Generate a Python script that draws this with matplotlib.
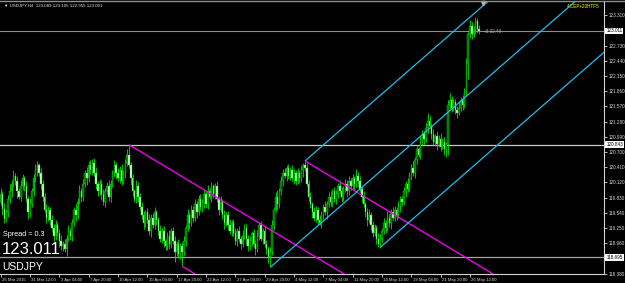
import matplotlib
matplotlib.use('Agg')
import matplotlib.pyplot as plt
from matplotlib.transforms import ScaledTranslation, blended_transform_factory
import numpy as np

# ---------------- data ----------------
first_open = 119.70
closes = [
    119.75, 119.90, 119.62, 119.42, 119.55, 119.80, 119.95, 120.10, 120.25, 120.15,
    119.95, 119.85, 120.05, 120.20, 120.05, 119.80, 119.55, 119.70, 119.95, 120.20,
    120.35, 120.45, 120.30, 120.10, 119.85, 119.60, 119.45, 119.60, 119.40, 119.25,
    119.10, 119.30, 119.15, 119.00, 118.90, 118.95, 118.85, 119.05, 119.20, 119.10,
    119.35, 119.60, 119.50, 119.75, 119.95, 119.85, 120.10, 120.30, 120.20, 120.45,
    120.35, 120.50, 120.30, 120.10, 119.95, 120.10, 119.90, 119.75, 119.95, 120.05,
    119.85, 120.10, 120.30, 120.45, 120.30, 120.20, 120.35, 120.15, 120.30, 120.50,
    120.65, 120.45, 120.20, 119.95, 119.80, 120.05, 119.85, 119.65, 119.50, 119.35,
    119.55, 119.40, 119.20, 119.45, 119.30, 119.55, 119.40, 119.20, 119.05, 119.20,
    119.00, 118.90, 119.10, 118.95, 119.20, 119.00, 118.80, 118.95, 118.75, 118.90,
    118.80, 119.00, 119.25, 119.50, 119.35, 119.60, 119.45, 119.70, 119.55, 119.80,
    119.65, 119.75, 119.90, 119.70, 119.95, 119.85, 120.05, 119.90, 120.05, 119.80,
    119.60, 119.75, 119.50, 119.35, 119.50, 119.30, 119.20, 119.35, 119.15, 119.00,
    119.20, 119.05, 118.95, 119.10, 119.25, 119.05, 118.90, 119.00, 119.15, 118.95,
    118.85, 119.10, 119.30, 119.05, 119.20, 118.95, 118.85, 118.70, 118.80, 119.30,
    119.60, 119.85, 119.70, 119.95, 120.15, 120.30, 120.25, 120.40, 120.25, 120.35,
    120.20, 120.30, 120.15, 120.30, 120.20, 120.35, 120.45, 120.40, 120.10, 119.85,
    119.70, 119.55, 119.45, 119.60, 119.40, 119.35, 119.50, 119.65, 119.55, 119.70,
    119.85, 119.75, 119.95, 119.80, 119.90, 120.05, 119.95, 119.85, 120.00, 120.10,
    119.95, 120.15, 120.05, 120.20, 120.10, 120.25, 120.15, 120.00, 119.85, 119.70,
    119.55, 119.40, 119.50, 119.30, 119.15, 119.25, 119.05, 118.95, 119.05, 119.20,
    119.35, 119.25, 119.45, 119.35, 119.55, 119.45, 119.60, 119.50, 119.65, 119.80,
    119.75, 119.95, 120.10, 120.00, 120.25, 120.40, 120.30, 120.55, 120.75, 120.65,
    120.90, 121.05, 120.95, 121.15, 121.30, 121.20, 121.05, 120.90, 121.00, 120.85,
    120.95, 120.80, 120.90, 120.75, 120.85, 121.60, 121.70, 121.55, 121.65, 121.50,
    121.45, 121.55, 121.70, 121.60, 121.85, 122.40, 122.95, 123.10, 122.95, 123.05,
    123.20, 123.05, 123.01,
]
upper_wick = [
    .08, .12, .05, .10, .06, .09, .14, .07, .11, .05,
    .09, .06, .12, .08, .05, .10, .07, .13, .06, .09,
    .12, .08, .05, .10, .07, .06, .11, .08, .05, .09,
    .07, .10, .06, .08, .12, .05, .09, .07, .11, .06,
    .08, .05, .10, .07, .12, .06, .09, .05, .11, .08,
    .10, .06, .08, .12, .05, .09, .07, .10, .06, .08,
    .11, .07, .05, .09, .06, .10, .08, .12, .06, .07,
    .10, .19, .06, .09, .05, .11, .07, .06, .10, .08,
    .05, .09, .12, .06, .08, .10, .05, .07, .11, .06,
    .09, .05, .08, .12, .06, .07, .10, .05, .09, .06,
    .08, .10, .06, .12, .05, .09, .07, .11, .06, .08,
    .10, .05, .09, .07, .12, .06, .08, .05, .06, .10,
    .07, .11, .05, .09, .06, .08, .12, .05, .07, .10,
    .06, .09, .05, .11, .07, .08, .06, .10, .05, .09,
    .07, .12, .06, .08, .05, .10, .07, .06, .09, .11,
    .05, .08, .12, .06, .09, .07, .10, .05, .08, .06,
    .11, .07, .05, .09, .06, .08, .04, .08, .10, .06,
    .09, .05, .11, .07, .06, .10, .08, .05, .12, .06,
    .08, .10, .05, .09, .07, .06, .11, .08, .05, .09,
    .07, .10, .06, .08, .05, .12, .07, .09, .06, .10,
    .05, .08, .11, .06, .09, .07, .05, .10, .08, .06,
    .09, .05, .12, .07, .06, .10, .08, .05, .11, .07,
    .06, .09, .05, .10, .07, .08, .12, .06, .09, .05,
    .10, .07, .06, .11, .15, .08, .06, .09, .05, .10,
    .07, .12, .06, .08, .05, .10, .12, .07, .09, .06,
    .08, .11, .06, .09, .07, .10, .05, .12, .08, .06,
    .08, .05, .07,
]
lower_wick = [
    .10, .06, .12, .08, .05, .09, .07, .11, .06, .08,
    .12, .05, .09, .07, .10, .06, .13, .08, .05, .09,
    .07, .10, .06, .12, .08, .05, .11, .07, .09, .06,
    .10, .08, .05, .12, .07, .09, .06, .14, .05, .08,
    .09, .06, .11, .07, .05, .10, .08, .06, .12, .07,
    .06, .09, .05, .11, .08, .07, .12, .06, .09, .05,
    .08, .10, .06, .07, .12, .05, .09, .08, .06, .10,
    .07, .05, .12, .09, .06, .08, .10, .05, .07, .11,
    .08, .06, .09, .12, .05, .07, .10, .08, .06, .09,
    .11, .07, .06, .10, .08, .05, .20, .09, .07, .10,
    .28, .06, .09, .05, .11, .07, .08, .06, .10, .05,
    .07, .09, .12, .06, .08, .05, .10, .07, .09, .06,
    .10, .05, .08, .12, .06, .09, .07, .11, .05, .08,
    .09, .06, .10, .07, .05, .12, .08, .06, .09, .07,
    .11, .06, .08, .05, .10, .07, .09, .12, .20, .06,
    .08, .05, .10, .07, .06, .09, .05, .11, .07, .08,
    .06, .10, .08, .05, .09, .07, .12, .06, .05, .09,
    .07, .11, .06, .08, .10, .05, .09, .07, .06, .12,
    .05, .08, .10, .06, .09, .07, .05, .11, .08, .06,
    .10, .06, .08, .05, .12, .07, .09, .06, .10, .05,
    .08, .11, .06, .09, .07, .05, .10, .06, .08, .07,
    .06, .10, .05, .08, .11, .07, .06, .09, .05, .10,
    .08, .06, .11, .07, .05, .09, .06, .10, .08, .05,
    .09, .07, .12, .06, .08, .05, .10, .07, .09, .12,
    .06, .08, .05, .10, .14, .20, .07, .09, .06, .08,
    .10, .05, .07, .09, .06, .08, .30, .07, .10, .06,
    .09, .07, .05,
]

time_labels = ["26 Mar 2015", "31 Mar 12:00", "3 Apr 04:00", "7 Apr 20:00",
               "10 Apr 12:00", "15 Apr 04:00", "17 Apr 20:00", "22 Apr 12:00",
               "27 Apr 04:00", "29 Apr 20:00", "4 May 12:00", "7 May 04:00",
               "11 May 20:00", "14 May 12:00", "19 May 04:00", "21 May 20:00",
               "26 May 12:00"]
time_label_bars = [1, 17, 33, 49, 65, 81, 97, 113, 129, 145, 161, 177, 193,
                   209, 225, 241, 257]

price_ticks = [123.310, 122.730, 122.440, 122.150, 121.860, 121.570, 121.280,
               120.990, 120.700, 120.410, 120.120, 119.830, 119.540, 119.250,
               118.960, 118.380]

bid_price = 123.011
hline_prices = [120.843, 118.695]

# pitchfork anchors (bar index, price)
magenta_anchors = [(71, 120.84), (100, 118.52), (167, 120.53)]
cyan_anchors = [(148, 118.50), (167, 120.53), (208, 118.88)]

header = "\u25bc USDJPY,H4  123.089 123.105 122.955 123.001"
indicator_name = "4.CEP+20HTF5"
timer_text = "+3.32.49"
spread_text = "Spread = 0.3"
big_price_text = "123.011"
symbol_text = "USDJPY"

# ---------------- figure ----------------
W, H = 625, 283
FONT = ['Liberation Sans', 'DejaVu Sans']
plt.rcParams['font.family'] = FONT

fig = plt.figure(figsize=(W / 100, H / 100), dpi=100, facecolor='black')
ax = fig.add_axes([0 / W, 9 / H, 604 / W, 273 / H], facecolor='black')

closes_a = np.array(closes)
opens_a = np.concatenate([[first_open], closes_a[:-1]])
idx = np.arange(len(closes_a))
highs = np.maximum(opens_a, closes_a) + np.array(upper_wick)
lows = np.minimum(opens_a, closes_a) - np.array(lower_wick)

xmin, xmax = 0.64, 330.1
ymin, ymax = 118.373, 123.583
ax.set_xlim(xmin, xmax)
ax.set_ylim(ymin, ymax)

# horizontal lines
ax.axhline(bid_price, color='#8c8c8c', lw=0.8, zorder=1)
ax.axhline(hline_prices[0], color='#c8c8c8', lw=0.9, zorder=1)
ax.axhline(hline_prices[1], color='#a0a0a0', lw=0.9, zorder=1)

# candles
up = closes_a >= opens_a
ax.vlines(idx, lows, highs, colors='#00e000', lw=0.6, zorder=3)
body_bottom = np.minimum(opens_a, closes_a)
body_h = np.maximum(np.abs(closes_a - opens_a), 0.004)
faces = np.where(up, '#007000', '#d8ffd8')
ax.bar(idx, body_h, bottom=body_bottom, width=0.8, color=faces,
       edgecolor='#00e000', linewidth=0.3, zorder=4)


def pitchfork(anchors, color):
    (b1, p1), (b2, p2), (b3, p3) = anchors
    mb, mp = (b2 + b3) / 2, (p2 + p3) / 2
    slope = (mp - p1) / (mb - b1)
    for (bs, ps) in [(b1, p1), (b2, p2), (b3, p3)]:
        xs = np.array([bs, xmax + 5])
        ax.plot(xs, ps + slope * (xs - bs), color=color, lw=0.9, zorder=5,
                solid_capstyle='butt')


pitchfork(magenta_anchors, '#ff00ff')
pitchfork(cyan_anchors, '#1ebeef')

# axes styling
for s in ['top', 'left']:
    ax.spines[s].set_visible(False)
ax.spines['right'].set_color('#d0d0d0')
ax.spines['bottom'].set_color('#d0d0d0')
ax.spines['right'].set_linewidth(0.8)
ax.spines['bottom'].set_linewidth(0.8)

ax.yaxis.tick_right()
ax.set_yticks(price_ticks)
ax.set_yticklabels([f"{p:.3f}" for p in price_ticks])
ax.tick_params(axis='y', direction='out', length=2, width=0.6, colors='#d8d8d8',
               labelsize=3.3, pad=1.2)
ax.set_xticks(time_label_bars)
ax.set_xticklabels(time_labels)
ax.tick_params(axis='x', direction='out', length=2.5, width=0.6, colors='#d8d8d8',
               labelsize=3.1, pad=0.3)
for lab in ax.get_xticklabels():
    lab.set_horizontalalignment('left')
    lab.set_transform(lab.get_transform() + ScaledTranslation(1.5 / 100, 0, fig.dpi_scale_trans))

# price boxes on axis
bt = blended_transform_factory(ax.transAxes, ax.transData)
for p in [bid_price] + hline_prices:
    ax.text(1.004, p, f"{p:.3f}", transform=bt, fontsize=3.3, color='black',
            va='center', ha='left', zorder=10, clip_on=False,
            bbox=dict(boxstyle='square,pad=0.2', facecolor='white', edgecolor='none'))

# texts
fig.text(4 / W, 1 - 6 / H, header, color='#e8e8e8', fontsize=3.2, va='center',
         ha='left', family=FONT)
ax.text(600 / 604, 1 - 5 / 273, indicator_name, transform=ax.transAxes, color='#ffff00',
        fontsize=3.3, va='center', ha='right')
ax.text(264.5, 123.0, timer_text, color='#a8a8a8', fontsize=3.3, va='center', ha='left')
fig.text(3 / W, 1 - 235 / H, spread_text, color='white', fontsize=5.2, va='center', ha='left')
fig.text(2 / W, 1 - 249 / H, big_price_text, color='white', fontsize=12, va='center', ha='left')
fig.text(2 / W, 1 - 267.5 / H, symbol_text, color='white', fontsize=7.5, va='center', ha='left')

# chart-shift marker
ax.plot([264.1], [123.55], marker='v', color='#b0b0b0', markersize=3, zorder=6, clip_on=False)

# window frame
fig.add_artist(plt.Line2D([0, 1], [1 - 0.5 / H, 1 - 0.5 / H], color='#909090', lw=1.0))

fig.savefig('out.png', dpi=100, facecolor='black')
